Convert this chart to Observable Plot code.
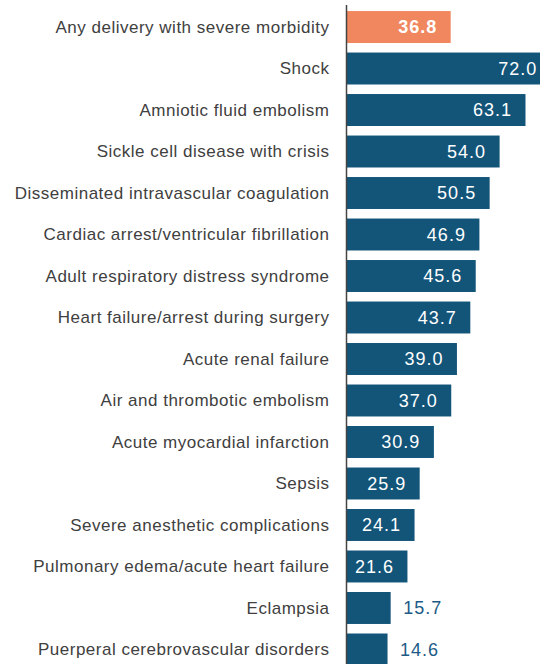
<!DOCTYPE html>
<html>
<head>
<meta charset="utf-8">
<script src="https://cdn.jsdelivr.net/npm/d3@7"></script>
<script src="https://cdn.jsdelivr.net/npm/@observablehq/plot@0.6"></script>
<style>
  html, body { margin: 0; padding: 0; background: #fff; }
  #chart svg { display: block; }
  #chart g[aria-label="y-axis tick label"] text { letter-spacing: 0.5px; }
  #chart g.vlabel text { letter-spacing: 1px; }
</style>
</head>
<body>
<div id="chart"></div>
<script>
const categories = [
  "Any delivery with severe morbidity",
  "Shock",
  "Amniotic fluid embolism",
  "Sickle cell disease with crisis",
  "Disseminated intravascular coagulation",
  "Cardiac arrest/ventricular fibrillation",
  "Adult respiratory distress syndrome",
  "Heart failure/arrest during surgery",
  "Acute renal failure",
  "Air and thrombotic embolism",
  "Acute myocardial infarction",
  "Sepsis",
  "Severe anesthetic complications",
  "Pulmonary edema/acute heart failure",
  "Eclampsia",
  "Puerperal cerebrovascular disorders"
];
const values = [36.8, 72.0, 63.1, 54.0, 50.5, 46.9, 45.6, 43.7, 39.0, 37.0, 30.9, 25.9, 24.1, 21.6, 15.7, 14.6];
const highlight = ["Any delivery with severe morbidity"];

const data = categories.map((c, i) => ({category: c, value: values[i], hi: highlight.includes(c)}));
const insideHi = data.filter(d => d.value >= 20 && d.hi);
const inside = data.filter(d => d.value >= 20 && !d.hi);
const outside = data.filter(d => d.value < 20);

const chart = Plot.plot({
  width: 540,
  height: 664,
  marginLeft: 346,
  marginRight: 0,
  marginTop: 5,
  marginBottom: 0,
  style: {fontFamily: "'Liberation Sans', Arial, sans-serif", fontSize: "17px", color: "#404040", background: "#fff"},
  x: {domain: [0, 68.2], axis: null},
  y: {domain: categories, range: [1.5, 675], round: false, padding: 0.23, label: null, tickSize: 0, tickPadding: 17},
  marks: [
    Plot.barX(data, {y: "category", x: "value", fill: d => d.hi ? "#F0875F" : "#135479", clip: true}),
    Plot.text(inside, {y: "category", x: "value", text: d => d.value.toFixed(1), textAnchor: "end", dx: -14,
      fill: "white", fontSize: 18, className: "vlabel"}),
    Plot.text(insideHi, {y: "category", x: "value", text: d => d.value.toFixed(1), textAnchor: "end", dx: -14,
      fill: "white", fontSize: 18, fontWeight: "bold", className: "vlabel"}),
    Plot.text(outside, {y: "category", x: "value", text: d => d.value.toFixed(1), textAnchor: "start", dx: 12,
      fill: "#1D5A86", fontSize: 18, className: "vlabel"}),
    Plot.ruleX([0], {stroke: "#444", strokeWidth: 1.5})
  ]
});
document.getElementById("chart").appendChild(chart);
</script>
</body>
</html>
